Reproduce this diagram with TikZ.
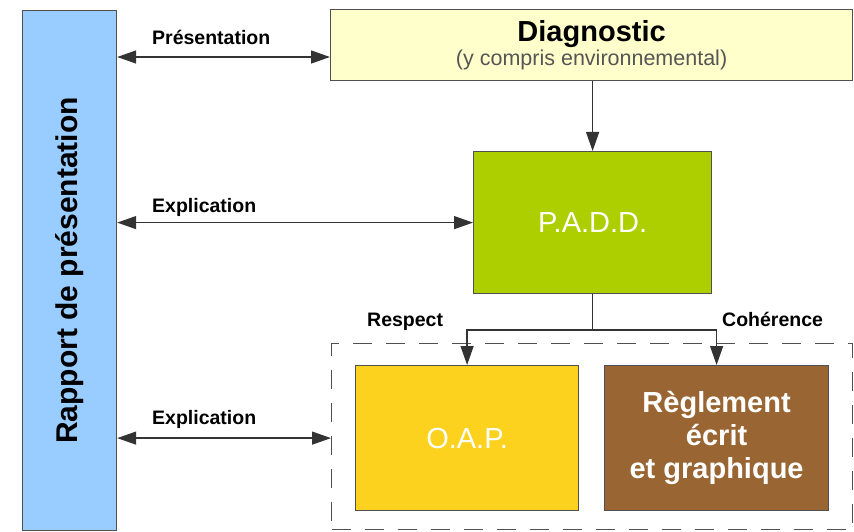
\documentclass[tikz,border=0pt]{standalone}
\usepackage{fontspec}
\setmainfont{Liberation Sans}
\usetikzlibrary{arrows.meta}
\definecolor{blueF}{HTML}{99CCFF}
\definecolor{diagF}{HTML}{FFFFCC}
\definecolor{paddF}{HTML}{ADCF00}
\definecolor{oapF}{HTML}{FCD21F}
\definecolor{regF}{HTML}{996633}
\definecolor{edgeC}{HTML}{505050}
\definecolor{lineC}{HTML}{333333}
\definecolor{subC}{HTML}{555555}
\begin{document}
\begin{tikzpicture}[x=1pt,y=-1pt,
  box/.style={draw=edgeC, line width=1.2pt, inner sep=0pt, anchor=north west, align=center},
  lbl/.style={font=\fontsize{19.5}{22}\selectfont\bfseries, inner sep=0pt, anchor=base west},
  big/.style={font=\fontsize{29}{33}\selectfont, text=white},
  arr/.style={draw=lineC, line width=1.3pt, -{Triangle[length=19pt,width=13pt]}},
  biarr/.style={draw=lineC, line width=1.3pt, {Triangle[length=19pt,width=13pt]}-{Triangle[length=19pt,width=13pt]}},
  grp/.style={draw=edgeC, line width=1.3pt, dash pattern=on 19pt off 14pt, inner sep=0pt, anchor=north west}
]
\useasboundingbox (0,0) rectangle (854,532);
% boxes
\node[box, fill=blueF, minimum width=94pt, minimum height=520pt] (blue) at (22,10) {};
\node[rotate=90, font=\fontsize{30}{30}\selectfont\bfseries, inner sep=0pt] (bluetxt) at (blue.center) {Rapport de présentation};
\node[box, fill=diagF, minimum width=522pt, minimum height=71pt] (diag) at (330,9)
  {{\fontsize{29}{29}\selectfont\bfseries Diagnostic}\\[1pt]{\fontsize{21.5}{21.5}\selectfont\color{subC}(y compris environnemental)}};
\node[box, fill=paddF, big, minimum width=238pt, minimum height=142pt] (padd) at (473,151) {P.A.D.D.};
\node[grp, minimum width=521pt, minimum height=186pt] (grp) at (331,343) {};
\node[box, fill=oapF, big, minimum width=223pt, minimum height=145pt] (oap) at (355,365) {O.A.P.};
\node[box, fill=regF, big, font=\fontsize{29}{33}\selectfont\bfseries, minimum width=224pt, minimum height=145pt] (reg) at (604,365) {Règlement\\écrit\\et graphique};
% helper coordinates
\coordinate (y1) at (0,57);
\coordinate (brY) at (0,330);
% connectors
\draw[biarr] (blue.east |- y1) -- (diag.west |- y1);
\draw[biarr] (blue.east |- padd.west) -- (padd.west);
\draw[biarr] (blue.east |- oap.west) -- (grp.west |- oap.west);
\draw[arr] (diag.south -| padd.north) -- (padd.north);
\draw[arr] (padd.south) -- (padd.south |- brY) -| (oap.north);
\draw[arr] (padd.south |- brY) -| (reg.north);
% labels
\node[lbl] (lp) at (152,45) {Présentation};
\node[lbl] (le1) at (152,212) {Explication};
\node[lbl] (le2) at (152,424) {Explication};
\node[lbl] (lr) at (367,326) {Respect};
\node[lbl] (lc) at (722,326) {Cohérence};
\end{tikzpicture}
\end{document}
